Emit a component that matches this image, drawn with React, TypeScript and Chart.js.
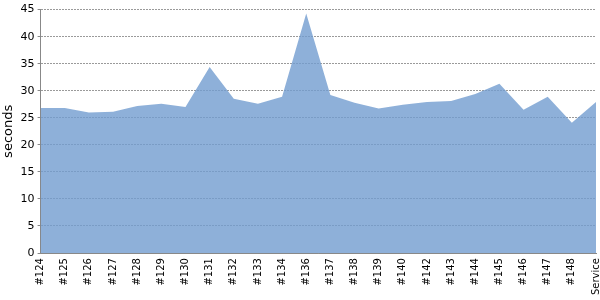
import React, { useEffect, useRef } from "react";
import { Chart, registerables } from "chart.js";

Chart.register(...registerables);

const categories = ["#124", "#125", "#126", "#127", "#128", "#129", "#130", "#131", "#132", "#133", "#134", "#136", "#137", "#138", "#139", "#140", "#142", "#143", "#144", "#145", "#146", "#147", "#148", "Service"];
const seconds = [26.8, 26.8, 26.0, 26.1, 27.2, 27.6, 27.0, 34.4, 28.5, 27.6, 28.9, 44.3, 29.2, 27.8, 26.7, 27.4, 27.9, 28.1, 29.4, 31.3, 26.5, 28.9, 24.1, 27.9];
const yTicks = [0, 5, 10, 15, 20, 25, 30, 35, 40, 45];

export default function App() {
  const ref = useRef<HTMLCanvasElement | null>(null);
  useEffect(() => {
    if (!ref.current) return;
    const font = { family: "'DejaVu Sans', sans-serif", size: 11 };
    const chart = new Chart(ref.current, {
      type: "line",
      data: {
        labels: categories,
        datasets: [
          {
            data: seconds,
            fill: "origin",
            backgroundColor: "rgba(114,156,207,0.8)",
            borderWidth: 0,
            pointRadius: 0,
            tension: 0,
          },
        ],
      },
      options: {
        responsive: false,
        animation: false,
        layout: { padding: { top: 3, right: 4, left: 0, bottom: 0 } },
        plugins: { legend: { display: false }, tooltip: { enabled: false } },
        scales: {
          x: {
            offset: false,
            afterFit: (s: any) => {
              s.paddingRight = 0;
            },
            grid: { drawOnChartArea: false, drawTicks: false },
            border: { color: "#888", width: 1 },
            ticks: {
              autoSkip: false,
              minRotation: 90,
              maxRotation: 90,
              padding: 5,
              color: "#000",
              font: { family: "'DejaVu Sans', sans-serif", size: 10 },
            },
          },
          y: {
            min: 0,
            max: 45,
            afterBuildTicks: (axis: any) => {
              axis.ticks = yTicks.map((v) => ({ value: v }));
            },
            grid: { color: "#9a9a9a", tickLength: 3, tickColor: "#888", tickBorderDash: [] },
            border: { color: "#888", width: 1, dash: [2, 1] },
            ticks: { color: "#000", font, padding: 3 },
            title: {
              display: true,
              text: "seconds",
              color: "#000",
              font: { family: "'DejaVu Sans', sans-serif", size: 13 },
              padding: { top: 1, bottom: 1 },
            },
          },
        },
      },
    });
    return () => chart.destroy();
  }, []);
  return (
    <div style={{ position: "fixed", left: 0, top: 0, width: 600, height: 300, background: "#fff" }}>
      <canvas ref={ref} width={600} height={300} />
    </div>
  );
}
